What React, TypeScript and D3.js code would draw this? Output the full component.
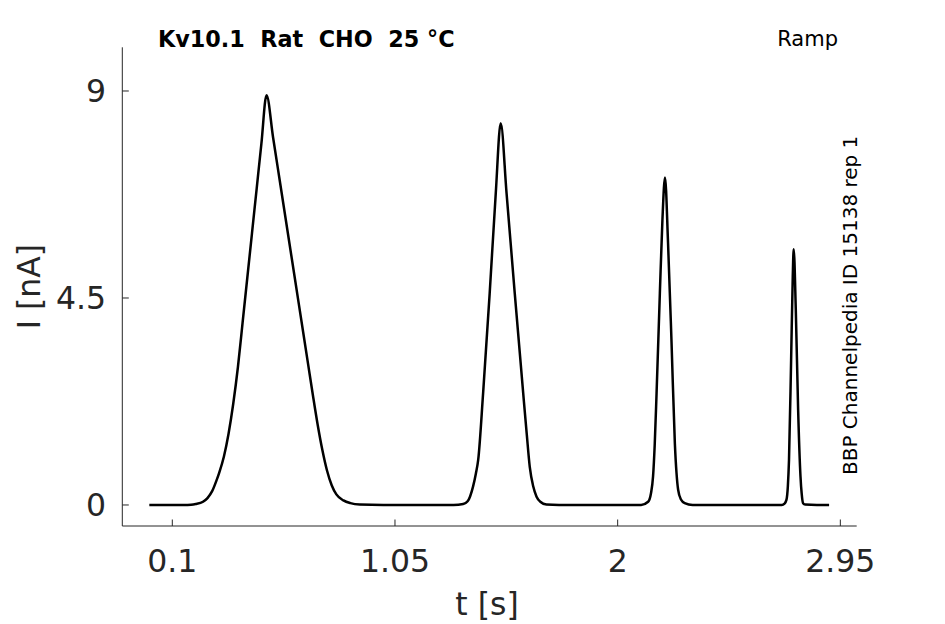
import React from "react";
import * as d3 from "d3";

const timeS: number[] = [
  0.002, 0.05, 0.1, 0.15, 0.18, 0.2, 0.231, 0.25, 0.27, 0.289, 0.3, 0.32, 0.34, 0.36, 0.38, 0.4, 0.42, 0.44, 0.46, 0.48, 0.502,
  0.53, 0.56, 0.6, 0.64, 0.68, 0.7, 0.72, 0.74, 0.76, 0.78, 0.8, 0.83, 0.86, 0.9, 1.0, 1.1, 1.2, 1.3,
  1.341, 1.36, 1.383, 1.395, 1.405, 1.426, 1.454, 1.48, 1.501, 1.526, 1.561, 1.597, 1.612, 1.625, 1.64, 1.654, 1.67, 1.696, 1.75,
  1.85, 1.95, 2.05, 2.1, 2.13, 2.142, 2.151, 2.158, 2.166, 2.18, 2.191, 2.202, 2.215, 2.23, 2.244, 2.251, 2.258, 2.27, 2.286, 2.32,
  2.4, 2.5, 2.6, 2.7, 2.712, 2.72, 2.726, 2.731, 2.74, 2.747, 2.751, 2.76, 2.77, 2.78, 2.785, 2.791, 2.8, 2.85, 2.902,
];
const currentNA: number[] = [
  0, 0, 0, 0, 0.005, 0.02, 0.07, 0.15, 0.3, 0.54, 0.7, 1.05, 1.55, 2.2, 3.0, 3.97, 4.94, 5.91, 6.88, 7.85, 8.91,
  7.99, 7.0, 5.68, 4.36, 3.04, 2.38, 1.75, 1.2, 0.75, 0.43, 0.23, 0.1, 0.04, 0.01, 0, 0, 0, 0,
  0.02, 0.08, 0.4, 0.68, 0.98, 2.43, 4.6, 6.78, 8.3, 6.78, 4.6, 2.43, 1.55, 0.83, 0.4, 0.18, 0.07, 0.01, 0,
  0, 0, 0, 0, 0.07, 0.25, 0.62, 1.3, 2.43, 4.6, 6.2, 7.12, 5.69, 3.51, 1.34, 0.7, 0.33, 0.12, 0.04, 0,
  0, 0, 0, 0, 0.03, 0.11, 0.4, 0.98, 3.15, 4.96, 5.56, 4.24, 2.06, 0.62, 0.25, 0.04, 0.01, 0, 0,
];
const xTicks: number[] = [0.1, 1.05, 2, 2.95];
const yTicks: number[] = [0, 4.5, 9];
const xTickLabels: string[] = ["0.1", "1.05", "2", "2.95"];
const yTickLabels: string[] = ["0", "4.5", "9"];

const FONT = "DejaVu Sans";
const AX = "#262626";

export default function App() {
  const left = 122.3, right = 856.7, top = 47.3, bottom = 526;
  const x = d3.scaleLinear().domain([-0.1133, 3.0198]).range([left, right]);
  const y = d3.scaleLinear().domain([-0.457, 9.95]).range([bottom, top]);
  const pts = timeS.map((t, i) => [t, currentNA[i]] as [number, number]);
  const line = d3.line<[number, number]>().x(d => x(d[0])).y(d => y(d[1])).curve(d3.curveMonotoneX);
  const tickLen = 6.5;
  return (
    <svg width={945} height={624} style={{ position: "absolute", left: 0, top: 0, background: "#fff" }} fontFamily={FONT}>
      <rect x={0} y={0} width={945} height={624} fill="#fff" />
      <path d={line(pts) || ""} fill="none" stroke="#000" strokeWidth={2.5} strokeLinejoin="round" />
      <line x1={left} x2={left} y1={top} y2={bottom} stroke={AX} strokeWidth={1} />
      <line x1={left} x2={right} y1={bottom} y2={bottom} stroke={AX} strokeWidth={1} />
      {xTicks.map((t, i) => (
        <g key={"x" + i}>
          <line x1={x(t)} x2={x(t)} y1={bottom} y2={bottom - tickLen} stroke={AX} strokeWidth={1} />
          <text x={x(t)} y={572} textAnchor="middle" fontSize={31.5} fill={AX}>{xTickLabels[i]}</text>
        </g>
      ))}
      {yTicks.map((v, i) => (
        <g key={"y" + i}>
          <line x1={left} x2={left + tickLen} y1={y(v)} y2={y(v)} stroke={AX} strokeWidth={1} />
          <text x={106} y={y(v)} dy="0.36em" textAnchor="end" fontSize={31.5} fill={AX}>{yTickLabels[i]}</text>
        </g>
      ))}
      <text x={487} y={615} textAnchor="middle" fontSize={31.5} fill={AX}>t [s]</text>
      <text transform={`translate(40,${(top + bottom) / 2}) rotate(-90)`} textAnchor="middle" fontSize={31.5} fill={AX}>I [nA]</text>
      <text x={158} y={47} fontSize={22.3} fontWeight="bold" fill="#000" style={{ whiteSpace: "pre" }}>{"Kv10.1  Rat  CHO  25 °C"}</text>
      <text x={838} y={46} textAnchor="end" fontSize={21} fill="#000">Ramp</text>
      <text transform={`translate(857,475) rotate(-90)`} textAnchor="start" fontSize={20} fill="#000">BBP Channelpedia ID 15138 rep 1</text>
    </svg>
  );
}
